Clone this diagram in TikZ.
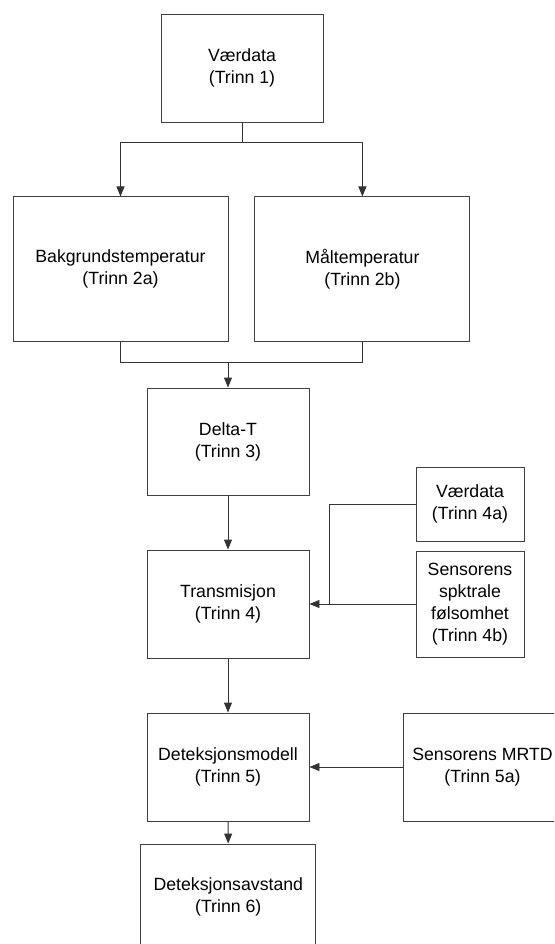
\documentclass[tikz,border=0pt]{standalone}
\usepackage{fontspec}
\setmainfont{Liberation Sans}
\usetikzlibrary{arrows.meta}
\tikzset{
  box/.style={draw=black!75, line width=0.9pt, rectangle, inner sep=0pt, align=center,
    font=\fontsize{17.7}{22}\selectfont, text=black},
  conn/.style={draw=black!80, line width=0.9pt},
  arr/.style={conn, -{Triangle[length=10pt,width=8pt]}}
}
\begin{document}
\begin{tikzpicture}[x=1pt,y=-1pt]
\useasboundingbox (0,0) rectangle (554,944);
\clip (0,0) rectangle (554,944);
\fill[white] (0,0) rectangle (554,944);
\node[box, minimum width=162pt, minimum height=108pt] (b1) at (242,68) {Værdata\\(Trinn 1)};
\node[box, minimum width=215pt, minimum height=145pt] (b2a) at (120.5,269.4) {Bakgrundstemperatur\\(Trinn 2a)};
\node[box, minimum width=215pt, minimum height=145pt] (b2b) at (362.4,269.4) {Måltemperatur\\(Trinn 2b)};
\node[box, minimum width=162pt, minimum height=107pt] (b3) at (228,441.5) {Delta-T\\(Trinn 3)};
\node[box, minimum width=162pt, minimum height=108pt] (b4) at (228,604) {Transmisjon\\(Trinn 4)};
\node[box, minimum width=108pt, minimum height=74pt] (b4a) at (470,504) {Værdata\\(Trinn 4a)};
\node[box, minimum width=108pt, minimum height=106pt] (b4b) at (470,604) {Sensorens\\spktrale\\følsomhet\\(Trinn 4b)};
\node[box, minimum width=162pt, minimum height=108pt] (b5) at (228,767) {Deteksjonsmodell\\(Trinn 5)};
\node[box, minimum width=159pt, minimum height=108pt] (b5a) at (482.5,767) {Sensorens MRTD\\(Trinn 5a)};
\node[box, minimum width=175pt, minimum height=106pt] (b6) at (228.3,897) {Deteksjonsavstand\\(Trinn 6)};
\coordinate (j1) at (242,142.7);
\coordinate (j2) at (228,362.3);
\coordinate (j4) at (329,604);
\draw[conn] (b1) -- (j1);
\draw[arr] (j1) -| (b2a);
\draw[arr] (j1) -| (b2b);
\draw[conn] (b2a.south) |- (j2) -| (b2b.south);
\draw[arr] (j2) -- (b3);
\draw[arr] (b3) -- (b4);
\draw[conn] (b4a.west) -| (j4);
\draw[arr] (b4b) -- (b4);
\draw[arr] (b4) -- (b5);
\draw[arr] (b5a) -- (b5);
\draw[arr] (b5) -- (b6);
\end{tikzpicture}
\end{document}
